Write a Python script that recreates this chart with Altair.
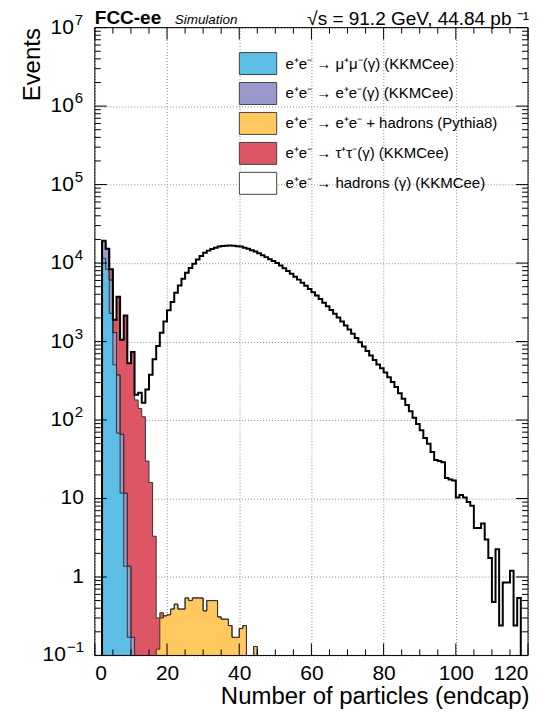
import altair as alt
import pandas as pd

N_BINS = 120

# ---- histogram contents (events per unit bin, bins 0..119) ----
mumu = [0, 0, 11500, 8300, 2290, 504, 68, 11.7, 1.37, 0.17]
ee = [0, 0, 7550, 6800, 3790, 796, 308, 54, 10.3, 1.2, 0.17]
eehad_first_bin = 17
eehad = [0.12, 0.3, 0.32, 0.33, 0.39, 0.45, 0.39, 0.39, 0.54, 0.5, 0.54, 0.54,
         0.54, 0.37, 0.5, 0.5, 0.5, 0.31, 0.29, 0.29, 0.24, 0.17, 0.17, 0.22,
         0.24, 0, 0, 0.13]
tautau = [0, 0, 150, 100, 2230, 600, 3340, 984, 2128, 524, 723, 180, 140, 110,
          30, 16, 3.3, 0.18, 0.05]
hadrons = [0, 0, 0, 0, 0, 0, 0, 1, 2, 5, 12, 30, 82, 56, 215, 362, 590, 877,
           1290, 1800, 2500, 3180, 4190, 5190, 6310, 7540, 8630, 9800, 11100,
           12300, 13500, 14400, 15100, 15700, 16200, 16500, 16600, 16700, 16600,
           16400, 16200, 15700, 15200, 14600, 14000, 13300, 12600, 11900, 11200,
           10600, 10000, 9290, 8610, 7940, 7310, 6710, 6150, 5620, 5130, 4680,
           4250, 3850, 3480, 3130, 2820, 2530, 2260, 2020, 1800, 1600, 1420,
           1260, 1110, 980, 863, 759, 665, 582, 508, 457, 403, 351, 304, 263,
           219, 186, 155, 129, 107, 89, 74, 59, 50, 39, 31, 30, 29, 18.2, 17.4,
           17, 10.3, 11.1, 10.3, 9.0, 8.1, 4.2, 4.2, 4.8, 3.0, 1.75, 0.48, 2.25,
           0.24, 0.85, 0.85, 1.2, 0.24, 0.54, 0, 0]

labels = ["e⁺e⁻ → μ⁺μ⁻(γ) (KKMCee)",
          "e⁺e⁻ → e⁺e⁻(γ) (KKMCee)",
          "e⁺e⁻ → e⁺e⁻ + hadrons (Pythia8)",
          "e⁺e⁻ → τ⁺τ⁻(γ) (KKMCee)",
          "e⁺e⁻ → hadrons (γ) (KKMCee)"]
colors = ["#5CBDE5", "#9B99CC", "#FFC95F", "#DC5666", "#FFFFFF"]

x_major = [0, 20, 40, 60, 80, 100, 120]
x_minor = [v for v in range(0, 121, 5) if v % 20]
y_major = [0.1, 1, 10, 100, 1e3, 1e4, 1e5, 1e6, 1e7]
y_minor = [d * m for d in y_major[:-1] for m in range(2, 10)]
y_plain = [1, 10]
y_plain_text = ["1", "10"]
y_pow = [100, 1e3, 1e4, 1e5, 1e6, 1e7]
y_pow_exp = ["2", "3", "4", "5", "6", "7"]
y_neg = [0.1]
y_neg_exp = ["−1"]

# ---- build stacked (cumulative) step data ----
def pad(a, start=0):
    out = [0.0] * N_BINS
    for i, v in enumerate(a):
        out[start + i] = float(v)
    return out

series = [pad(mumu), pad(ee), pad(eehad, eehad_first_bin), pad(tautau), pad(hadrons)]
FLOOR = 1e-3
rows = []
cum = [0.0] * N_BINS
for name, s in zip(labels, series):
    cum = [c + v for c, v in zip(cum, s)]
    vals = [c if c > 0 else FLOOR for c in cum]
    for i in range(N_BINS):
        rows.append({"proc": name, "x": i, "y": vals[i]})
    rows.append({"proc": name, "x": N_BINS, "y": vals[-1]})
df = pd.DataFrame(rows)

W, H = 434, 629
FONT = "Liberation Sans"

xs = alt.Scale(domain=[0, 120], nice=False, zero=False)
ys = alt.Scale(type="log", domain=[0.1, 1e7], nice=False)

x_axis = alt.Axis(values=x_major, grid=True, gridDash=[1, 2], gridColor="#8a8a8a",
                  ticks=False, domain=False, labelFont=FONT, labelFontSize=21,
                  labelColor="black", labelPadding=7,
                  title="Number of particles (endcap)", titleFont=FONT,
                  titleFontSize=24, titleFontWeight="normal", titleColor="black",
                  titleAlign="right", titleAnchor="end", titleX=W + 1, titleY=48,
                  titleBaseline="alphabetic")
y_axis = alt.Axis(values=y_major, grid=True, gridDash=[1, 2], gridColor="#8a8a8a",
                  ticks=False, domain=False, labels=False,
                  title="Events", titleFont=FONT, titleFontSize=24,
                  titleFontWeight="normal", titleColor="black", titleAngle=-90,
                  titleAlign="right", titleAnchor="end", titleX=-55, titleY=0,
                  titleBaseline="alphabetic")

X = alt.X("x:Q", scale=xs, axis=x_axis)
Y = alt.Y("y:Q", scale=ys, axis=y_axis)

color = alt.Color(
    "proc:N",
    scale=alt.Scale(domain=labels, range=colors),
    legend=alt.Legend(orient="none", legendX=152, legendY=24.5, title=None,
                      symbolType="M-1.7,-1H1.7V1H-1.7Z", symbolSize=484,
                      symbolStrokeColor="#444444", symbolStrokeWidth=1,
                      symbolOpacity=1, labelFont=FONT, labelFontSize=15,
                      labelColor="black", labelLimit=400, labelOffset=16,
                      rowPadding=3),
)

layers = []
for idx in [3, 2, 1, 0]:
    layers.append(
        alt.Chart(df).transform_filter(alt.datum.proc == labels[idx])
        .mark_area(interpolate="step-after", clip=True, opacity=1)
        .encode(x=X, y=Y, y2=alt.datum(FLOOR), color=color)
    )
for idx in [3, 2, 1, 0]:
    layers.append(
        alt.Chart(df).transform_filter(alt.datum.proc == labels[idx])
        .mark_line(interpolate="step-after", clip=True, color="#333333", strokeWidth=1)
        .encode(x=X, y=Y)
    )
layers.append(
    alt.Chart(df).transform_filter(alt.datum.proc == labels[4])
    .mark_line(interpolate="step-after", clip=True, color="black", strokeWidth=2)
    .encode(x=X, y=Y)
)

# ticks drawn inside the frame, ROOT style, on all four sides
def yticks(vals, length, right):
    d = pd.DataFrame({"y": vals})
    x1, x2 = (W, W - length) if right else (0, length)
    return alt.Chart(d).mark_rule(color="black", strokeWidth=1).encode(
        y=Y, x=alt.value(x1), x2=alt.value(x2))

def xticks(vals, length, top):
    d = pd.DataFrame({"x": vals})
    y1, y2 = (0, length) if top else (H, H - length)
    return alt.Chart(d).mark_rule(color="black", strokeWidth=1).encode(
        x=X, y=alt.value(y1), y2=alt.value(y2))

layers += [yticks(y_major, 12, False), yticks(y_minor, 6, False),
           yticks(y_major, 12, True), yticks(y_minor, 6, True),
           xticks(x_major, 12, False), xticks(x_minor, 6, False),
           xticks(x_major, 12, True), xticks(x_minor, 6, True)]

# frame
layers.append(alt.Chart(pd.DataFrame({"x": [0, 120]})).mark_rule(color="black", strokeWidth=1)
              .encode(x=X, y=alt.value(0), y2=alt.value(H)))
layers.append(alt.Chart(pd.DataFrame({"y": [0.1, 1e7]})).mark_rule(color="black", strokeWidth=1)
              .encode(y=Y, x=alt.value(0), x2=alt.value(W)))

# y tick labels, ROOT style 10^n
def ylabel(vals, texts, xpos, size, align, dy=0):
    d = pd.DataFrame({"y": vals, "t": texts})
    return alt.Chart(d).mark_text(align=align, baseline="middle", font=FONT,
                                  fontSize=size, color="black", dy=dy).encode(
        y=Y, x=alt.value(xpos), text="t:N")

layers += [ylabel(y_plain, y_plain_text, -11, 21, "right"),
           ylabel(y_pow, ["10"] * len(y_pow), -21, 21, "right"),
           ylabel(y_pow, y_pow_exp, -20, 15, "left", dy=-8),
           ylabel(y_neg, ["10"] * len(y_neg), -29, 21, "right"),
           ylabel(y_neg, y_neg_exp, -28, 15, "left", dy=-8)]

# header texts
def text(t, x, y, size, align="left", weight="normal", style="normal"):
    return alt.Chart(pd.DataFrame({"t": [t]})).mark_text(
        align=align, baseline="alphabetic", font=FONT, fontSize=size,
        fontWeight=weight, fontStyle=style, color="black").encode(
        text="t:N", x=alt.value(x), y=alt.value(y))

layers += [text("FCC-ee", 0, -4, 19, weight="bold"),
           text("Simulation", 80, -4, 13.5, style="italic"),
           text("√s = 91.2 GeV, 44.84 pb ⁻¹", W + 1, -3, 19, align="right")]

chart = alt.layer(*layers).properties(
    width=W, height=H, autosize="none",
    padding={"left": 87, "top": 19, "right": 10, "bottom": 53},
    background="white",
).configure_view(stroke=None)

chart.save("out.html", embed_options={"renderer": "svg", "actions": False})
